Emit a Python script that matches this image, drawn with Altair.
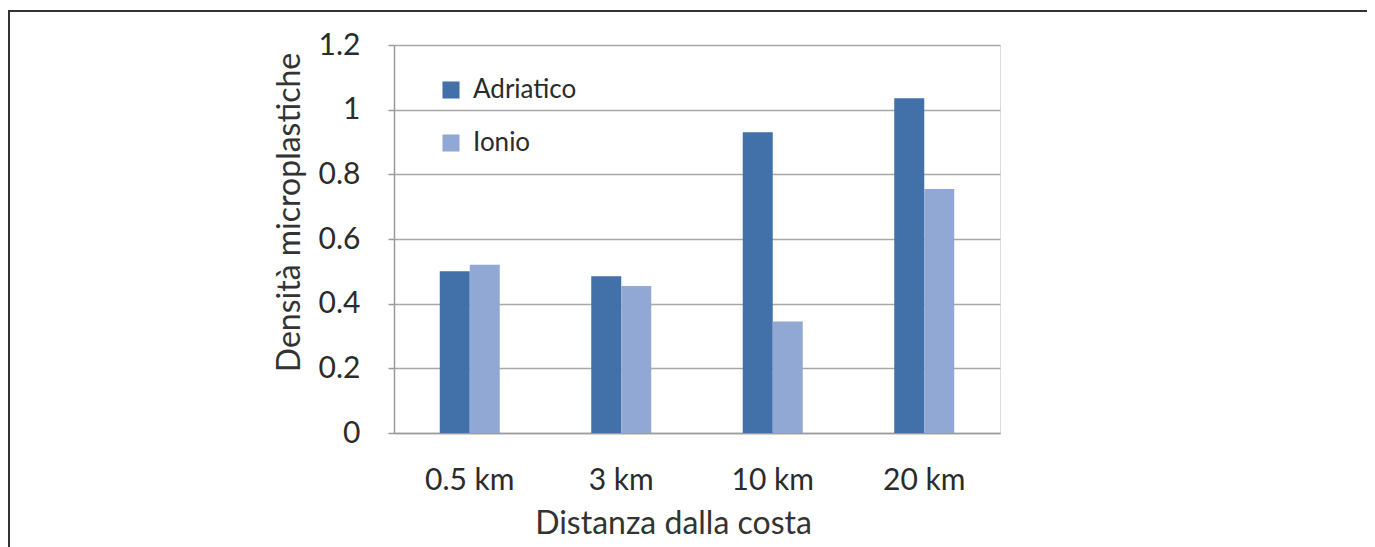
import altair as alt
import pandas as pd

categories = ["0.5 km", "3 km", "10 km", "20 km"]
series = ["Adriatico", "Ionio"]
adriatico = [0.50, 0.485, 0.93, 1.035]
ionio = [0.52, 0.455, 0.345, 0.755]
y_ticks = [0, 0.2, 0.4, 0.6, 0.8, 1.0, 1.2]
colors = ["#4270A9", "#90A8D3"]

rows = []
for c, a, i in zip(categories, adriatico, ionio):
    rows.append({"dist": c, "serie": "Adriatico", "val": a})
    rows.append({"dist": c, "serie": "Ionio", "val": i})
df = pd.DataFrame(rows)

FONT = "Lato"
TXT = "#2b2b2b"

bars = alt.Chart(df).mark_bar().encode(
    x=alt.X("dist:N", sort=categories,
            scale=alt.Scale(paddingInner=0.604, paddingOuter=0.302),
            axis=alt.Axis(title="Distanza dalla costa", labelAngle=0, ticks=False,
                          domain=True, domainColor="#9a9a9a", domainWidth=1.5,
                          labelFontSize=30, labelPadding=32, labelColor=TXT,
                          titleFontSize=32, titleFontWeight="normal", titleColor="#333333",
                          titlePadding=13, titleX=279, labelFont=FONT, titleFont=FONT)),
    xOffset=alt.XOffset("serie:N", sort=series),
    y=alt.Y("val:Q", scale=alt.Scale(domain=[0, 1.2], nice=False),
            axis=alt.Axis(title="Densità microplastiche", values=y_ticks,
                          format="~g", grid=True, gridColor="#a8a8a8", gridWidth=1.5,
                          domain=True, domainColor="#9a9a9a", domainWidth=1.5,
                          ticks=True, tickSize=6, tickColor="#9a9a9a", tickWidth=1.5,
                          labelFontSize=30, labelPadding=28, labelColor=TXT,
                          titleFontSize=32, titleFontWeight="normal", titleColor="#333333",
                          titlePadding=12, titleY=167, labelFont=FONT, titleFont=FONT)),
    color=alt.Color("serie:N", sort=series,
                    scale=alt.Scale(domain=series, range=colors),
                    legend=alt.Legend(title=None, orient="none", legendX=44, legendY=32,
                                      symbolType="square", symbolSize=290,
                                      symbolStrokeWidth=0, labelFontSize=26,
                                      labelFont=FONT, labelColor=TXT,
                                      rowPadding=27, labelOffset=9)),
)

frame = alt.Chart(pd.DataFrame({"k": [0]})).mark_rect(
    fill=None, stroke="#333333", strokeWidth=2, clip=False
).encode(x=alt.value(-385), x2=alt.value(975), y=alt.value(-34), y2=alt.value(520))

chart = alt.layer(frame, bars).properties(
    width=606, height=388,
    autosize=alt.AutoSizeParams(type="none"),
    padding={"left": 386, "top": 37, "right": 367, "bottom": 114},
).configure_view(stroke=None).configure(background="white")

chart.save("out.html", embed_options={"renderer": "svg", "actions": False})
